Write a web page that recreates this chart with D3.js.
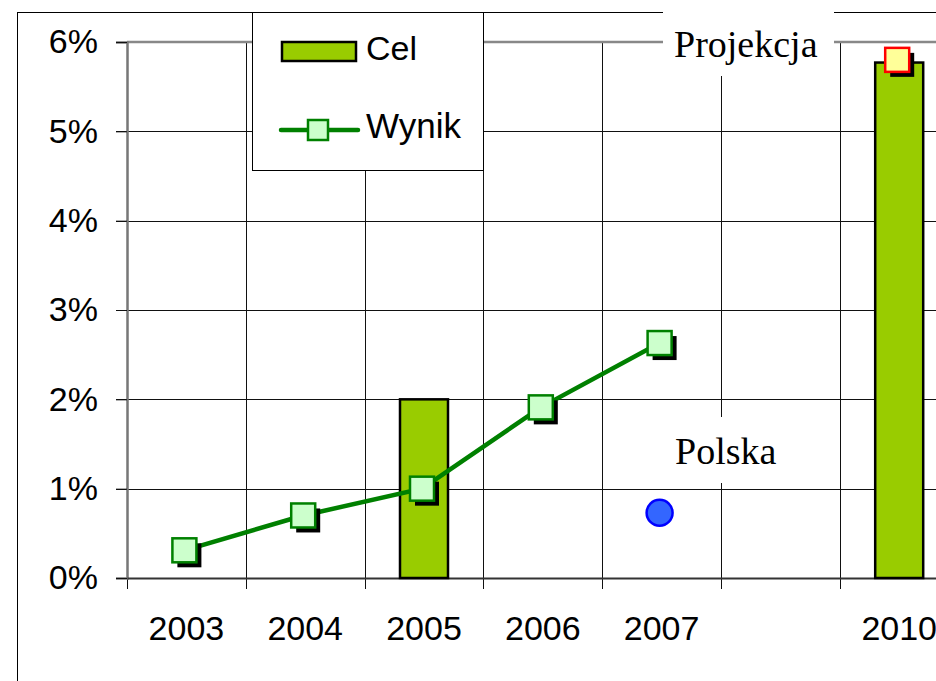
<!DOCTYPE html>
<html>
<head>
<meta charset="utf-8">
<script src="https://cdn.jsdelivr.net/npm/d3@7"></script>
<style>
  body { margin: 0; background: #fff; }
  svg { display: block; }
</style>
</head>
<body>
<svg id="wykres" width="936" height="681"></svg>
<script>
// dane
let lata = ['2003', '2004', '2005', '2006', '2007', '', '2010'];
let celLata = ['2005', '2010'];
let celWartosci = [0.02, 0.0577];
let wynikLata = ['2003', '2004', '2005', '2006', '2007'];
let wynikWartosci = [0.0031, 0.0070, 0.0100, 0.0191, 0.0263];
let projekcjaLata = ['2010'];
let projekcjaWartosci = [0.058];
let polskaLata = ['2007'];
let polskaWartosci = [0.0073];
let ticksY = [0, 0.01, 0.02, 0.03, 0.04, 0.05, 0.06];

let svg = d3.select('#wykres');
let szer = 936;

let lewo = 127, gora = 42, dol = 578;
let krok = 118.8;

let fnx = d3.scaleBand()
    .domain(lata)
    .range([lewo, lewo + krok * lata.length])
    .padding(0);

let fny = d3.scaleLinear()
    .domain([0, 0.06])
    .range([dol, gora]);

let sans = 'Liberation Sans, Arial, sans-serif';
let serif = 'Liberation Serif, Times New Roman, serif';

// ramka zewnetrzna
svg.append('rect')
    .attr('x', 17.5).attr('y', 12.5)
    .attr('width', 1000).attr('height', 1000)
    .attr('fill', 'none').attr('stroke', '#000').attr('stroke-width', 1);

// linie siatki poziome
svg.append('g').selectAll('line')
    .data(ticksY.filter(d => d > 0))
    .join('line')
    .attr('x1', 116).attr('x2', szer)
    .attr('y1', d => Math.round(fny(d)) + 0.5)
    .attr('y2', d => Math.round(fny(d)) + 0.5)
    .attr('stroke', '#111').attr('stroke-width', 1);

// linie pionowe (granice kategorii)
let granice = lata.map(d => fnx(d)).concat([fnx.range()[1]]);
svg.append('g').selectAll('line')
    .data(granice)
    .join('line')
    .attr('x1', d => Math.round(d) + 0.5).attr('x2', d => Math.round(d) + 0.5)
    .attr('y1', gora).attr('y2', 589)
    .attr('stroke', '#111').attr('stroke-width', 1);

// gorna krawedz obszaru wykresu
svg.append('line')
    .attr('x1', lewo).attr('x2', szer)
    .attr('y1', gora).attr('y2', gora)
    .attr('stroke', '#888').attr('stroke-width', 2.5);

// os Y
let osY = svg.append('g')
    .attr('transform', `translate(${lewo},0)`)
    .call(d3.axisLeft(fny).tickValues(ticksY).tickFormat(d3.format('.0%')).tickSize(11).tickPadding(18));
osY.select('.domain').attr('stroke', '#777').attr('stroke-width', 2.5);
osY.selectAll('.tick line').attr('stroke', '#111');
osY.selectAll('text').attr('font-family', sans).attr('font-size', 34).attr('fill', '#000');

// os X
let osX = svg.append('g')
    .attr('transform', `translate(0,${dol})`)
    .call(d3.axisBottom(fnx).tickSize(0).tickPadding(38));
osX.select('.domain').attr('stroke', '#333').attr('stroke-width', 2);
osX.selectAll('text').attr('font-family', sans).attr('font-size', 34).attr('fill', '#000');

// slupki Cel
let szerSlupka = 48;
svg.append('g').selectAll('rect')
    .data(celLata.map((r, i) => ({ rok: r, v: celWartosci[i] })))
    .join('rect')
    .attr('x', d => fnx(d.rok) + fnx.bandwidth() / 2 - szerSlupka / 2)
    .attr('y', d => fny(d.v))
    .attr('width', szerSlupka)
    .attr('height', d => dol - fny(d.v))
    .attr('fill', '#99cc00').attr('stroke', '#000').attr('stroke-width', 2.5);

// linia Wynik
let punkty = wynikLata.map((r, i) => ({ rok: r, v: wynikWartosci[i] }));
let srodek = d => fnx(d.rok) + fnx.bandwidth() / 2 - 2;
let linia = d3.line()
    .x(srodek)
    .y(d => fny(d.v));
svg.append('path')
    .datum(punkty)
    .attr('d', linia)
    .attr('fill', 'none').attr('stroke', '#008000').attr('stroke-width', 4.5);

// znaczniki z cieniem
function znaczniki(dane, wypelnienie, obrys) {
    let g = svg.append('g');
    let b = 24;
    g.selectAll('.cien')
        .data(dane)
        .join('rect')
        .attr('class', 'cien')
        .attr('x', d => srodek(d) - b / 2 + 5)
        .attr('y', d => fny(d.v) - b / 2 + 5)
        .attr('width', b).attr('height', b)
        .attr('fill', '#000');
    g.selectAll('.znak')
        .data(dane)
        .join('rect')
        .attr('class', 'znak')
        .attr('x', d => srodek(d) - b / 2)
        .attr('y', d => fny(d.v) - b / 2)
        .attr('width', b).attr('height', b)
        .attr('fill', wypelnienie).attr('stroke', obrys).attr('stroke-width', 2.5);
}
znaczniki(punkty, '#ccffcc', '#008000');
znaczniki(projekcjaLata.map((r, i) => ({ rok: r, v: projekcjaWartosci[i] })), '#ffff99', '#ff0000');

// punkt Polska
svg.append('g').selectAll('circle')
    .data(polskaLata.map((r, i) => ({ rok: r, v: polskaWartosci[i] })))
    .join('circle')
    .attr('cx', d => srodek(d))
    .attr('cy', d => fny(d.v))
    .attr('r', 13)
    .attr('fill', '#3366ff').attr('stroke', '#0000ff').attr('stroke-width', 2.5);

// etykieta Projekcja
svg.append('rect')
    .attr('x', 663).attr('y', 0).attr('width', 171).attr('height', 76)
    .attr('fill', '#fff');
svg.append('text')
    .attr('x', 674).attr('y', 57)
    .attr('font-family', serif).attr('font-size', 38)
    .text('Projekcja');

// etykieta Polska
svg.append('rect')
    .attr('x', 664).attr('y', 417).attr('width', 126).attr('height', 66)
    .attr('fill', '#fff');
svg.append('text')
    .attr('x', 675).attr('y', 464)
    .attr('font-family', serif).attr('font-size', 38)
    .text('Polska');

// legenda
let leg = svg.append('g');
leg.append('rect')
    .attr('x', 252.5).attr('y', 12.5).attr('width', 231).attr('height', 158)
    .attr('fill', '#fff').attr('stroke', '#000').attr('stroke-width', 1);
leg.append('rect')
    .attr('x', 282).attr('y', 42).attr('width', 74).attr('height', 19)
    .attr('fill', '#99cc00').attr('stroke', '#000').attr('stroke-width', 2.5);
leg.append('text')
    .attr('x', 366).attr('y', 60)
    .attr('font-family', sans).attr('font-size', 34)
    .text('Cel');
leg.append('line')
    .attr('x1', 281).attr('x2', 358).attr('y1', 130).attr('y2', 130)
    .attr('stroke', '#008000').attr('stroke-width', 4.5).attr('stroke-linecap', 'round');
leg.append('rect')
    .attr('x', 308).attr('y', 120).attr('width', 20).attr('height', 20)
    .attr('fill', '#ccffcc').attr('stroke', '#008000').attr('stroke-width', 2.5);
leg.append('text')
    .attr('x', 366).attr('y', 138)
    .attr('font-family', sans).attr('font-size', 35)
    .text('Wynik');
</script>
</body>
</html>
